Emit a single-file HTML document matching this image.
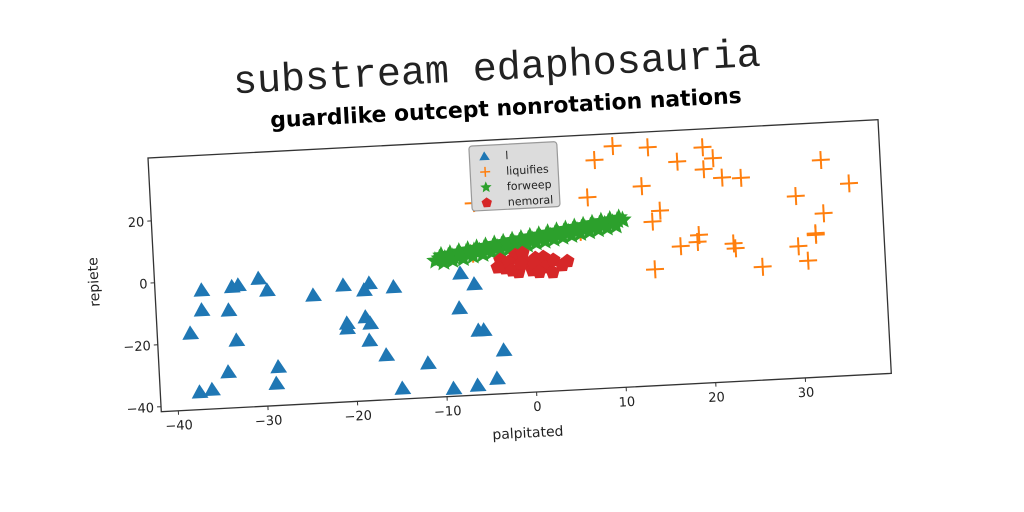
<!DOCTYPE html>
<html><head><meta charset="utf-8"><style>
html,body{margin:0;padding:0;background:#fff;width:1024px;height:512px;overflow:hidden}
svg{display:block}
text{font-family:"DejaVu Sans","Liberation Sans",sans-serif}
</style></head><body>
<svg id="chart" width="1024" height="512" viewBox="0 0 1024 512" xmlns="http://www.w3.org/2000/svg">
<rect width="1024" height="512" fill="#fff"/>
<g id="frame" transform="rotate(-3 148 158)">
  <text x="501" y="98" text-anchor="middle" font-size="40" style="font-family:'Liberation Mono',monospace" fill="#222">substream edaphosauria</text>
  <text x="508" y="134" text-anchor="middle" font-size="22" font-weight="bold" fill="#000" textLength="472" lengthAdjust="spacingAndGlyphs">guardlike outcept nonrotation nations</text>
  <g id="marks"></g>
  <rect x="148" y="158" width="731" height="254" fill="none" stroke="#333" stroke-width="1.3"/>
  <g id="axes"></g>
  <text x="513" y="457" text-anchor="middle" font-size="14" fill="#222">palpitated</text>
  <text x="92" y="279" text-anchor="middle" font-size="14" fill="#222" transform="rotate(-90 92 279)">repiete</text>
  <g id="legend"></g>
</g>
</svg>
<script>
const xTicks=[-40,-30,-20,-10,0,10,20,30];
const yTicks=[-40,-20,0,20];
const blueX=[-36.7,-36.8,-33.3,-32.6,-30.3,-29.4,-33.8,-38.2,-33.1,-34.2,-28.6,-28.9,-37.5,-36.1,-24.3,-20.9,-20.7,-20.7,-18.0,-18.6,-15.3,-18.6,-18.1,-18.3,-16.5,-11.9,-14.9,-9.2,-6.5,-4.3,-3.4,-8.1,-6.3,-7.8,-6.1,-5.5];
const blueY=[-3.2,-9.6,-2.6,-2.2,-0.4,-4.3,-10.1,-16.9,-19.9,-30.0,-29.2,-34.5,-36.0,-35.4,-6.7,-4.0,-16.3,-17.9,-3.8,-5.9,-5.4,-14.6,-16.7,-22.2,-27.2,-30.5,-38.2,-39.1,-38.5,-36.6,-27.6,-13.3,-5.8,-2.1,-20.8,-20.8];
const orangeX=[9.9,13.8,7.8,19.9,21.0,17.0,19.9,21.9,24.0,12.9,6.8,14.8,13.9,33.0,36.0,30.0,33.0,32.0,32.0,30.0,31.0,25.9,22.8,23.0,19.0,18.8,16.9,13.9,-2.3,-5.9,5.8,-6.3];
const orangeY=[36.3,35.3,32.1,34.4,30.7,30.2,27.3,24.3,23.9,22.9,20.2,14.7,11.3,28.3,20.3,17.1,11.1,4.8,4.3,0.9,-3.9,-5.1,2.9,1.3,6.2,4.0,2.9,-4.1,34.3,20.3,9.2,4.0];
const greenX=[-10.5,-10,-9.4,-9,-8.5,-8,-7.6,-7,-6.5,-6.1,-5.5,-5,-4.6,-4,-3.5,-3,-2.6,-2,-1.5,-1,-0.6,0,0.5,1,1.4,2,2.5,3,3.4,4,4.5,5,5.5,6,6.4,7,7.5,8,8.6,9,9.5,10,10.6,
 -9.8,-8.8,-7.8,-6.8,-5.8,-4.8,-3.8,-2.8,-1.8,-0.8,0.2,1.2,2.2,3.2,4.2,5.2,6.2,7.2,8.2,9.2,10.2,
 -9.6,-8.6,-7.4,-6.3,-5.2,-4.2,-3.2,-2.2,-1.2,-0.2,0.8,1.8,2.8,3.8,4.8,5.8,6.8,7.8,8.8,9.8];
const greenY=[2.4,3.1,2.9,3.6,3.3,4.0,3.7,4.5,4.2,4.9,4.7,5.4,5.1,5.8,5.6,6.3,6.0,6.8,6.5,7.2,6.9,7.7,7.4,8.1,7.9,8.6,8.3,9.0,8.8,9.5,9.3,9.9,9.7,10.4,10.2,10.9,10.6,11.3,11.2,11.8,11.6,12.2,12.3,
 4.0,4.4,4.9,5.4,5.8,6.3,6.8,7.2,7.7,8.1,8.6,9.0,9.5,10.0,10.4,10.9,11.3,11.8,12.3,12.7,13.1,
 1.7,2.2,2.6,3.2,3.6,4.1,4.6,5.0,5.5,5.9,6.4,6.8,7.3,7.8,8.2,8.7,9.1,9.6,10.0,10.5];
const redX=[-3.25,-3.6,-2.75,-1.55,-0.75,-0.47,-1.3,0.25,0.67,1.55,1.7,2.5,2.65,4.2,3.6,-2.35,-2.0,0.5,1.0,-1.0];
const redY=[1.5,-0.8,-1.2,2.8,3.3,0.4,-2.7,-2.3,1.5,1.7,-1.6,-3.3,0.6,0.0,-1.2,0.7,-2.0,-0.5,-3.0,0.0];

const NS="http://www.w3.org/2000/svg";
const X0=148,Y0=158,W=731,H=254,XMIN=-41.9,XMAX=39.6,YMIN=-41.6,YMAX=40.3;
function sx(v){return X0+(v-XMIN)/(XMAX-XMIN)*W;}
function sy(v){return Y0+(YMAX-v)/(YMAX-YMIN)*H;}
function mk(tag,attrs,parent){const e=document.createElementNS(NS,tag);for(const k in attrs)e.setAttribute(k,attrs[k]);parent.appendChild(e);return e;}
const marks=document.getElementById('marks'),axes=document.getElementById('axes'),legend=document.getElementById('legend');
function tri(cx,cy,s){return `${cx},${cy-s} ${cx+s*1.05},${cy+s*0.75} ${cx-s*1.05},${cy+s*0.75}`;}
function star(cx,cy,r){let p=[];for(let i=0;i<10;i++){const a=-Math.PI/2+i*Math.PI/5,rr=i%2?r*0.45:r;p.push((cx+rr*Math.cos(a)).toFixed(1)+','+(cy+rr*Math.sin(a)).toFixed(1));}return p.join(' ');}
function pent(cx,cy,r){let p=[];for(let i=0;i<5;i++){const a=-Math.PI/2+i*2*Math.PI/5;p.push((cx+r*Math.cos(a)).toFixed(1)+','+(cy+r*Math.sin(a)).toFixed(1));}return p.join(' ');}
function plus(g,cx,cy,s,w){mk('line',{x1:cx-s,y1:cy,x2:cx+s,y2:cy,stroke:'#ff7f0e','stroke-width':w},g);mk('line',{x1:cx,y1:cy-s,x2:cx,y2:cy+s,stroke:'#ff7f0e','stroke-width':w},g);}

blueX.forEach((v,i)=>{const e=mk('polygon',{points:tri(sx(v),sy(blueY[i]),8),fill:'#1f77b4'},marks);

});
orangeX.forEach((v,i)=>{const g=mk('g',{},marks);plus(g,sx(v),sy(orangeY[i]),9,2);

});
greenX.forEach((v,i)=>{const e=mk('polygon',{points:star(sx(v),sy(greenY[i]),9.5),fill:'#2ca02c'},marks);

});
redX.forEach((v,i)=>{const e=mk('polygon',{points:pent(sx(v),sy(redY[i]),7.5),fill:'#d62728'},marks);

});

xTicks.forEach(t=>{const x=sx(t);mk('line',{x1:x,y1:Y0+H,x2:x,y2:Y0+H+4,stroke:'#333'},axes);
const e=mk('text',{x:x,y:Y0+H+19,'text-anchor':'middle','font-size':13,fill:'#222'},axes);e.textContent=(t<0?'\u2212'+(-t):t);

});
yTicks.forEach(t=>{const y=sy(t);mk('line',{x1:X0,y1:y,x2:X0-4,y2:y,stroke:'#333'},axes);
const e=mk('text',{x:X0-7,y:y+5,'text-anchor':'end','font-size':13,fill:'#222'},axes);e.textContent=(t<0?'\u2212'+(-t):t);

});

const LX=469,LY=163;
mk('rect',{x:LX,y:LY,width:88,height:65,rx:3,fill:'#dcdcdc',stroke:'#999','stroke-width':1.2},legend);
const labels=['l','liquifies','forweep','nemoral'];
labels.forEach((l,i)=>{const cy=LY+11+i*15.5,cx=LX+15;const g=mk('g',{},legend);


if(i==0)mk('polygon',{points:tri(cx,cy,5),fill:'#1f77b4'},g);
if(i==1)plus(g,cx,cy,5,1.5);
if(i==2)mk('polygon',{points:star(cx,cy,6),fill:'#2ca02c'},g);
if(i==3)mk('polygon',{points:pent(cx,cy,5.5),fill:'#d62728'},g);
const t=mk('text',{x:LX+36,y:cy+4,'font-size':11,fill:'#222'},g);t.textContent=l;});
</script>
</body></html>
